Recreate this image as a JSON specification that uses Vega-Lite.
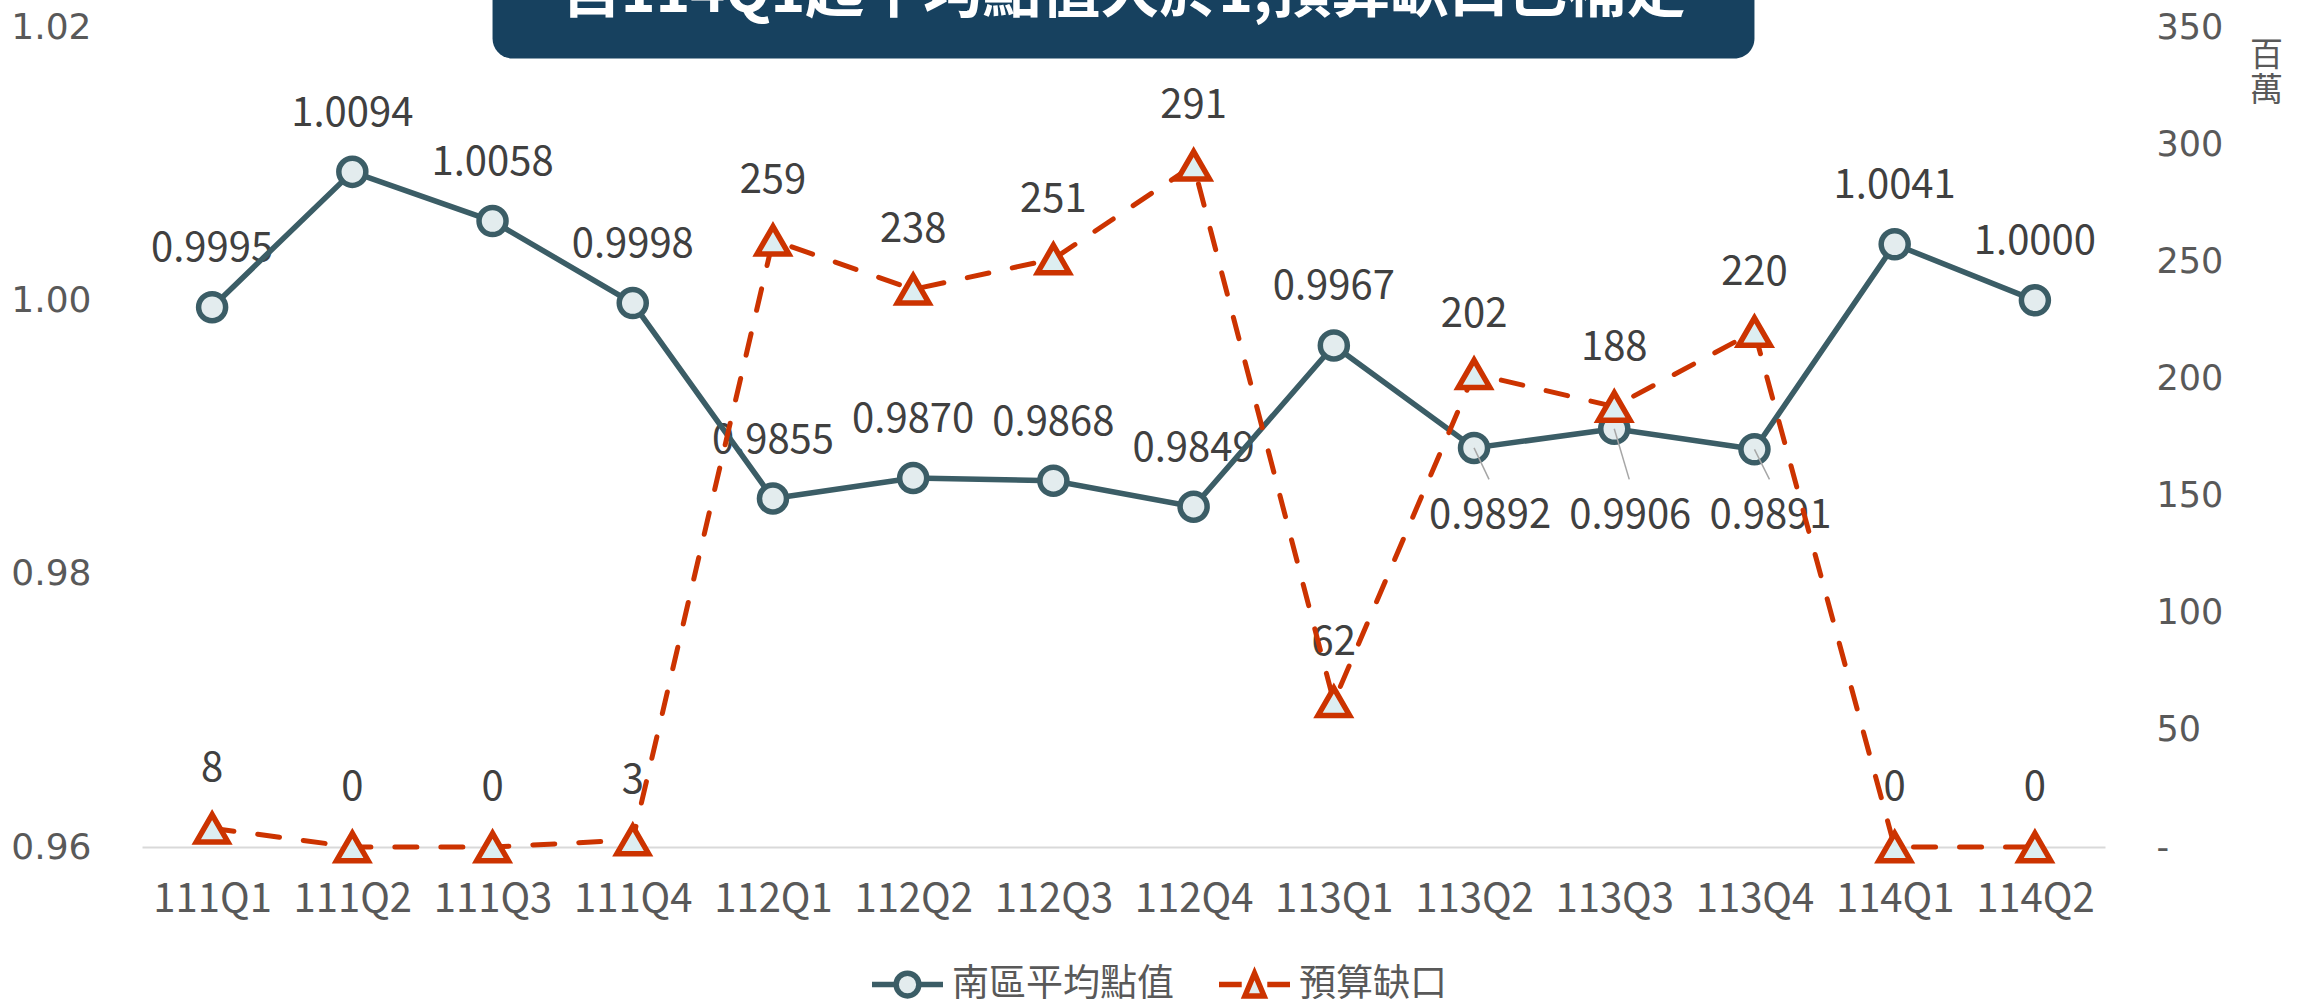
{
  "$schema": "https://vega.github.io/schema/vega-lite/v6.json",
  "width": 1963,
  "height": 820,
  "autosize": {"type": "none"},
  "padding": {"left": 142, "top": 27, "right": 198, "bottom": 152},
  "background": "white",
  "config": {"view": {"stroke": null}, "font": "Noto Sans CJK TC"},
  "datasets": {
    "main": [
      {"q": "111Q1", "series": "南區平均點值", "v": 0.9995},
      {"q": "111Q2", "series": "南區平均點值", "v": 1.0094},
      {"q": "111Q3", "series": "南區平均點值", "v": 1.0058},
      {"q": "111Q4", "series": "南區平均點值", "v": 0.9998},
      {"q": "112Q1", "series": "南區平均點值", "v": 0.9855},
      {"q": "112Q2", "series": "南區平均點值", "v": 0.9870},
      {"q": "112Q3", "series": "南區平均點值", "v": 0.9868},
      {"q": "112Q4", "series": "南區平均點值", "v": 0.9849},
      {"q": "113Q1", "series": "南區平均點值", "v": 0.9967},
      {"q": "113Q2", "series": "南區平均點值", "v": 0.9892},
      {"q": "113Q3", "series": "南區平均點值", "v": 0.9906},
      {"q": "113Q4", "series": "南區平均點值", "v": 0.9891},
      {"q": "114Q1", "series": "南區平均點值", "v": 1.0041},
      {"q": "114Q2", "series": "南區平均點值", "v": 1.0000},
      {"q": "111Q1", "series": "預算缺口", "v": 8},
      {"q": "111Q2", "series": "預算缺口", "v": 0},
      {"q": "111Q3", "series": "預算缺口", "v": 0},
      {"q": "111Q4", "series": "預算缺口", "v": 3},
      {"q": "112Q1", "series": "預算缺口", "v": 259},
      {"q": "112Q2", "series": "預算缺口", "v": 238},
      {"q": "112Q3", "series": "預算缺口", "v": 251},
      {"q": "112Q4", "series": "預算缺口", "v": 291},
      {"q": "113Q1", "series": "預算缺口", "v": 62},
      {"q": "113Q2", "series": "預算缺口", "v": 202},
      {"q": "113Q3", "series": "預算缺口", "v": 188},
      {"q": "113Q4", "series": "預算缺口", "v": 220},
      {"q": "114Q1", "series": "預算缺口", "v": 0},
      {"q": "114Q2", "series": "預算缺口", "v": 0}
    ],
    "banner": [{"title": "自114Q1起平均點值大於1,預算缺口已補足"}]
  },
  "data": {"name": "main"},
  "layer": [
    {
      "data": {"name": "banner"},
      "encoding": {
        "x": {"datum": 2.5, "type": "quantitative", "scale": {"domain": [0, 14], "nice": false, "zero": false}, "axis": null},
        "y": {"datum": 1.0177, "type": "quantitative", "scale": {"domain": [0.96, 1.02], "nice": false, "zero": false}, "axis": null}
      },
      "layer": [
        {
          "mark": {"type": "rect", "color": "#17415F", "cornerRadius": 20, "clip": false},
          "encoding": {
            "x2": {"datum": 11.5},
            "y2": {"datum": 1.05}
          }
        },
        {
          "mark": {"type": "text", "color": "white", "fontSize": 59, "fontWeight": "bold", "font": "Noto Sans CJK TC", "align": "center", "baseline": "alphabetic", "clip": false},
          "encoding": {
            "x": {"datum": 7.0, "type": "quantitative"},
            "y": {"datum": 1.0211, "type": "quantitative"},
            "text": {"field": "title"}
          }
        }
      ]
    },
    {
      "encoding": {
        "x": {
          "field": "q",
          "type": "ordinal",
          "scale": {"type": "point", "padding": 0.5, "domain": ["111Q1","111Q2","111Q3","111Q4","112Q1","112Q2","112Q3","112Q4","113Q1","113Q2","113Q3","113Q4","114Q1","114Q2"]},
          "axis": {"title": null, "labelAngle": 0, "labelFont": "Noto Sans CJK TC", "labelFontSize": 40, "labelColor": "#595959", "labelPadding": 32, "ticks": false, "domainColor": "#D9D9D9", "domainWidth": 2, "grid": false}
        }
      },
      "layer": [
        {
          "encoding": {
            "y": {
              "field": "v",
              "type": "quantitative",
              "scale": {"domain": [0.96, 1.02], "zero": false, "nice": false},
              "axis": {"title": null, "values": [0.96, 0.98, 1.0, 1.02], "format": ".2f", "labelFont": "DejaVu Sans", "labelFontSize": 36, "labelColor": "#595959", "labelPadding": 51, "ticks": false, "domain": false, "grid": false}
            }
          },
          "layer": [
            {
              "transform": [{"filter": "datum.series === '南區平均點值' && indexof(['113Q2','113Q3','113Q4'], datum.q) < 0"}],
              "mark": {"type": "text", "dy": -58, "fontSize": 40, "color": "#404040", "font": "Noto Sans CJK TC", "baseline": "middle"},
              "encoding": {"text": {"field": "v", "type": "quantitative", "format": ".4f"}}
            },
            {
              "transform": [{"filter": "datum.series === '南區平均點值' && indexof(['113Q2','113Q3','113Q4'], datum.q) >= 0"}],
              "mark": {"type": "text", "dx": 16, "fontSize": 40, "color": "#404040", "font": "Noto Sans CJK TC", "baseline": "middle"},
              "encoding": {"y": {"datum": 0.9842, "type": "quantitative"}, "text": {"field": "v", "type": "quantitative", "format": ".4f"}}
            },
            {
              "transform": [{"filter": "datum.series === '南區平均點值'"}],
              "mark": {"type": "line", "strokeWidth": 5.5},
              "encoding": {
                "color": {
                  "field": "series",
                  "type": "nominal",
                  "scale": {"domain": ["南區平均點值", "預算缺口"], "range": ["#3B5D66", "#CC3300"]},
                  "legend": {
                    "title": null, "orient": "none", "legendX": 727, "legendY": 919, "direction": "horizontal", "padding": 0,
                    "labelFont": "Noto Sans CJK TC", "labelFontSize": 37, "labelColor": "#595959", "labelOffset": 6, "columnPadding": 34, "labelLimit": 500,
                    "symbolSize": 5041, "symbolStrokeWidth": 5.5,
                    "encode": {"symbols": {"update": {
                      "shape": {"signal": "datum.value === '南區平均點值' ? 'M-1,0L-0.38,0M0.38,0L1,0M0.32,0A0.32,0.32,0,1,1,-0.32,0A0.32,0.32,0,1,1,0.32,0Z' : 'M-1,0L-0.36,0M0.36,0L1,0M0,-0.32L0.27,0.32L-0.27,0.32Z'"},
                      "fill": {"value": "#E3ECEE"},
                      "strokeDash": {"value": []}
                    }}}
                  }
                }
              }
            },
            {
              "transform": [{"filter": "datum.series === '南區平均點值'"}],
              "mark": {"type": "point", "shape": "circle", "filled": true, "size": 730, "fill": "#E3ECEE", "stroke": "#3B5D66", "strokeWidth": 5.5, "opacity": 1}
            },
            {
              "transform": [{"filter": "datum.series === '南區平均點值' && indexof(['113Q2','113Q3','113Q4'], datum.q) >= 0"}],
              "mark": {"type": "rule", "color": "#A6A6A6", "strokeWidth": 1.5, "x2Offset": 15},
              "encoding": {"x2": {"field": "q"}, "y2": {"datum": 0.9869}}
            }
          ]
        },
        {
          "encoding": {
            "y": {
              "field": "v",
              "type": "quantitative",
              "scale": {"domain": [0, 350], "nice": false},
              "axis": {"orient": "right", "title": ["百", "萬"], "titleAngle": 0, "titleX": 161, "titleY": 12, "titleAlign": "center", "titleBaseline": "top", "titleFont": "Noto Sans CJK TC", "titleFontSize": 33, "titleFontWeight": "normal", "titleColor": "#595959", "titleLineHeight": 35, "values": [0, 50, 100, 150, 200, 250, 300, 350], "labelExpr": "datum.value === 0 ? '-' : datum.label", "labelFont": "DejaVu Sans", "labelFontSize": 35, "labelColor": "#595959", "labelPadding": 51, "ticks": false, "domain": false, "grid": false}
            }
          },
          "layer": [
            {
              "transform": [{"filter": "datum.series === '預算缺口'"}],
              "mark": {"type": "text", "dy": -59, "fontSize": 40, "color": "#404040", "font": "Noto Sans CJK TC", "baseline": "middle"},
              "encoding": {"text": {"field": "v", "type": "quantitative", "format": "d"}}
            },
            {
              "transform": [{"filter": "datum.series === '預算缺口'"}],
              "mark": {"type": "line", "strokeWidth": 5, "strokeDash": [22, 24], "strokeCap": "round"},
              "encoding": {
                "color": {"field": "series", "type": "nominal", "scale": {"domain": ["南區平均點值", "預算缺口"], "range": ["#3B5D66", "#CC3300"]}}
              }
            },
            {
              "transform": [{"filter": "datum.series === '預算缺口'"}],
              "mark": {"type": "point", "shape": "triangle-up", "filled": true, "size": 1000, "fill": "#DDEEF1", "stroke": "#CC3300", "strokeWidth": 5.5, "opacity": 1}
            }
          ]
        }
      ],
      "resolve": {"scale": {"y": "independent"}}
    }
  ],
  "resolve": {"scale": {"x": "independent", "y": "independent"}}
}
